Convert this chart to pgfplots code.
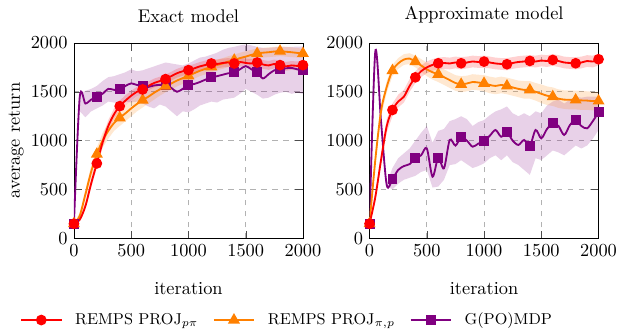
\documentclass[border=0pt]{standalone}
\usepackage{pgfplots}
\pgfplotsset{compat=1.18}
\usepackage{pgfplotstable}
\definecolor{cRed}{rgb}{1,0,0}
\definecolor{cOrange}{rgb}{1,0.5,0}
\definecolor{cPurple}{rgb}{0.5,0,0.5}

% band polygon: upper bound forward, lower bound backward
\newcommand\mkband[2]{%
  \pgfplotstablesort[sort key=x, sort cmp=int >]{\tmprev}{#2}%
  \pgfplotstablecreatecol[create col/copy=hi]{b}{#2}%
  \pgfplotstablecreatecol[create col/copy=lo]{b}{\tmprev}%
  \pgfplotstablevertcat{#1}{#2}%
  \pgfplotstablevertcat{#1}{\tmprev}%
}

% Exact model
\pgfplotstableread{
x m lo hi
0 150 140 160
50 190 170 215
100 330 300 370
150 560 520 610
200 767 720 820
250 980 930 1040
300 1150 1100 1210
350 1270 1220 1330
400 1353 1300 1410
450 1410 1360 1465
500 1460 1410 1510
550 1500 1455 1550
600 1524 1480 1575
650 1560 1515 1605
700 1590 1545 1635
750 1610 1565 1655
800 1630 1585 1675
850 1660 1615 1705
900 1690 1645 1735
950 1710 1665 1755
1000 1722 1680 1765
1050 1740 1695 1785
1100 1760 1715 1805
1150 1775 1730 1820
1200 1790 1745 1835
1250 1785 1740 1830
1300 1795 1750 1840
1350 1800 1755 1845
1400 1790 1745 1835
1450 1805 1760 1850
1500 1795 1750 1840
1550 1790 1745 1835
1600 1800 1755 1845
1650 1780 1735 1825
1700 1770 1725 1815
1750 1785 1740 1830
1800 1773 1730 1820
1850 1760 1715 1805
1900 1770 1725 1815
1950 1765 1720 1810
2000 1773 1730 1820
}\LR
\pgfplotstableread{
x m lo hi
0 150 140 160
50 230 200 260
100 450 400 500
150 680 620 740
200 862 800 930
250 1000 930 1080
300 1100 1020 1180
350 1180 1100 1260
400 1234 1150 1315
450 1280 1200 1360
500 1330 1250 1405
550 1375 1300 1450
600 1415 1340 1490
650 1450 1380 1520
700 1490 1420 1560
750 1525 1460 1590
800 1558 1495 1620
850 1585 1525 1645
900 1615 1555 1675
950 1640 1580 1700
1000 1664 1605 1720
1050 1690 1635 1745
1100 1715 1660 1770
1150 1735 1680 1790
1200 1756 1700 1810
1250 1775 1720 1830
1300 1790 1735 1845
1350 1810 1755 1865
1400 1824 1770 1880
1450 1845 1790 1900
1500 1860 1805 1915
1550 1878 1825 1930
1600 1892 1840 1945
1650 1900 1850 1950
1700 1905 1855 1955
1750 1912 1860 1960
1800 1916 1865 1965
1850 1910 1860 1960
1900 1905 1855 1955
1950 1898 1850 1948
2000 1892 1845 1940
}\LO
\pgfplotstableread{
x m lo hi
0 150 150 150
50 1440 1300 1480
100 1380 1240 1510
150 1420 1300 1530
200 1449 1330 1560
250 1480 1360 1610
300 1530 1400 1650
350 1520 1390 1660
400 1524 1380 1680
450 1560 1400 1700
500 1586 1390 1730
550 1570 1400 1710
600 1558 1380 1720
650 1550 1350 1740
700 1565 1330 1760
750 1570 1370 1780
800 1568 1350 1800
850 1540 1300 1790
900 1500 1250 1780
950 1530 1300 1770
1000 1568 1290 1790
1050 1580 1320 1820
1100 1600 1360 1850
1150 1625 1380 1860
1200 1647 1400 1880
1250 1660 1390 1900
1300 1675 1420 1930
1350 1690 1430 1950
1400 1698 1440 1960
1450 1730 1480 1975
1500 1763 1530 1985
1550 1730 1500 1975
1600 1698 1470 1960
1650 1637 1430 1950
1700 1680 1440 1950
1750 1720 1470 1955
1800 1729 1490 1960
1850 1740 1500 1960
1900 1745 1480 1960
1950 1730 1490 1962
2000 1722 1480 1965
}\LP

% Approximate model
\pgfplotstableread{
x m lo hi
0 150 140 160
50 420 380 470
100 800 740 870
150 1150 1080 1220
200 1314 1250 1380
250 1400 1340 1470
300 1450 1390 1520
350 1560 1500 1630
400 1648 1590 1710
450 1710 1650 1770
500 1750 1690 1810
550 1775 1715 1835
600 1792 1730 1850
650 1795 1735 1855
700 1790 1730 1850
750 1800 1740 1860
800 1792 1730 1855
850 1800 1740 1860
900 1810 1750 1870
950 1805 1745 1865
1000 1809 1745 1870
1050 1800 1740 1860
1100 1790 1730 1850
1150 1785 1725 1845
1200 1782 1720 1845
1250 1795 1735 1855
1300 1805 1745 1865
1350 1810 1750 1870
1400 1816 1755 1875
1450 1810 1750 1870
1500 1820 1760 1880
1550 1815 1755 1875
1600 1826 1765 1885
1650 1815 1755 1875
1700 1800 1740 1860
1750 1795 1735 1855
1800 1792 1730 1855
1850 1800 1740 1860
1900 1815 1755 1875
1950 1810 1750 1870
2000 1833 1770 1890
}\RR
\pgfplotstableread{
x m lo hi
0 150 140 160
50 800 740 860
100 1300 1240 1360
150 1550 1490 1610
200 1717 1660 1775
250 1790 1735 1845
300 1830 1775 1885
350 1840 1785 1895
400 1809 1750 1870
450 1770 1705 1835
500 1730 1660 1800
550 1700 1625 1775
600 1679 1600 1755
650 1650 1570 1730
700 1620 1540 1700
750 1590 1510 1670
800 1577 1495 1660
850 1585 1505 1665
900 1600 1520 1680
950 1595 1515 1675
1000 1587 1505 1670
1050 1570 1485 1655
1100 1560 1475 1645
1150 1570 1485 1655
1200 1560 1475 1645
1250 1545 1460 1630
1300 1530 1445 1615
1350 1520 1430 1610
1400 1519 1430 1610
1450 1500 1410 1590
1500 1480 1385 1575
1550 1460 1365 1555
1600 1450 1355 1545
1650 1430 1335 1525
1700 1420 1325 1515
1750 1418 1320 1515
1800 1416 1320 1512
1850 1412 1315 1510
1900 1410 1315 1505
1950 1405 1310 1500
2000 1406 1310 1500
}\RO
\pgfplotstableread{
x m lo hi
0 150 150 150
50 1911 1911 1911
100 1200 1200 1200
150 546 540 560
200 607 500 720
250 700 560 820
300 740 600 870
350 760 620 920
400 819 640 1000
450 850 680 1080
500 921 700 1150
550 631 520 980
600 826 530 1100
650 717 600 1120
700 1007 750 1200
750 950 760 1220
800 1034 800 1250
850 1000 760 1220
900 938 720 1150
950 970 740 1190
1000 997 768 1211
1050 1050 820 1260
1100 1109 850 1300
1150 1040 800 1320
1200 1085 850 1350
1250 1000 780 1280
1300 956 750 1250
1350 1007 700 1280
1400 945 650 1250
1450 1109 820 1300
1500 1024 802 1280
1550 1120 850 1360
1600 1177 900 1400
1650 1150 880 1420
1700 1058 850 1380
1750 1160 900 1420
1800 1211 950 1450
1850 1150 920 1440
1900 1126 950 1450
1950 1200 1020 1450
2000 1290 1109 1450
}\RP

\mkband{\LRb}{\LR}
\mkband{\LOb}{\LO}
\mkband{\LPb}{\LP}
\mkband{\RRb}{\RR}
\mkband{\ROb}{\RO}
\mkband{\RPb}{\RP}

\pgfplotsset{
  myaxis/.style={
    width=124.8pt, height=106.5pt, scale only axis,
    xmin=0, xmax=2000, ymin=0, ymax=2000,
    xtick={0,500,1000,1500,2000}, ytick={0,500,1000,1500,2000},
    /pgf/number format/1000 sep={},
    scaled ticks=false,
    grid=major, grid style={dashed, gray!60},
    tick style={black!70},
    xlabel={iteration},
    xlabel style={yshift=-7pt},
    title style={yshift=1.5pt},
  },
  band/.style={draw=none, fill=#1, fill opacity=0.18, forget plot},
  redline/.style={cRed, line width=1pt, smooth, mark=*, mark size=2.4pt, mark repeat=4, mark options={solid, fill=cRed}},
  orangeline/.style={cOrange, line width=1pt, smooth, mark=triangle*, mark size=2.8pt, mark repeat=4, mark options={solid, fill=cOrange}},
  purpleline/.style={cPurple, line width=1pt, smooth, mark=square*, mark size=2.2pt, mark repeat=4, mark options={solid, fill=cPurple}},
  legimg/.style={legend image code/.code={
      \draw[mark repeat=2, mark phase=2] plot coordinates {(0cm,0cm) (0.385cm,0cm) (0.77cm,0cm)};}},
}

\begin{document}
\begin{tikzpicture}
\begin{axis}[myaxis, name=leftax, at={(0pt,0pt)}, anchor=south west,
    title={Exact model}, ylabel={average return}, ylabel shift=-3pt,
    legend columns=3,
    legend style={draw=none, fill=none, at={(-0.26,-0.418)}, anchor=west,
      font=\fontsize{8.6}{10}\selectfont,
      /tikz/every odd column/.append style={column sep=5pt},
      /tikz/every even column/.append style={column sep=6pt}},
    legend cell align=left]
  \addplot[band=cPurple] table[x=x, y=b]{\LPb};
  \addplot[band=cOrange] table[x=x, y=b]{\LOb};
  \addplot[band=cRed] table[x=x, y=b]{\LRb};
  \addplot[purpleline, forget plot] table[x=x, y=m]{\LP};
  \addplot[orangeline, forget plot] table[x=x, y=m]{\LO};
  \addplot[redline, forget plot] table[x=x, y=m]{\LR};
  \addlegendimage{redline, legimg}
  \addlegendentry{REMPS PROJ$_{p\pi}$}
  \addlegendimage{orangeline, legimg}
  \addlegendentry{REMPS PROJ$_{\pi,p}$}
  \addlegendimage{purpleline, legimg}
  \addlegendentry{G(PO)MDP}
\end{axis}
\begin{axis}[myaxis, name=rightax, at={(161.1pt,0pt)}, anchor=south west,
    title={Approximate model}]
  \addplot[band=cPurple] table[x=x, y=b]{\RPb};
  \addplot[band=cOrange] table[x=x, y=b]{\ROb};
  \addplot[band=cRed] table[x=x, y=b]{\RRb};
  \addplot[purpleline, forget plot] table[x=x, y=m]{\RP};
  \addplot[orangeline, forget plot] table[x=x, y=m]{\RO};
  \addplot[redline, forget plot] table[x=x, y=m]{\RR};
\end{axis}
\pgfresetboundingbox
\path (-40.3pt,-52.7pt) rectangle (296.5pt,129.9pt);
\end{tikzpicture}
\end{document}
